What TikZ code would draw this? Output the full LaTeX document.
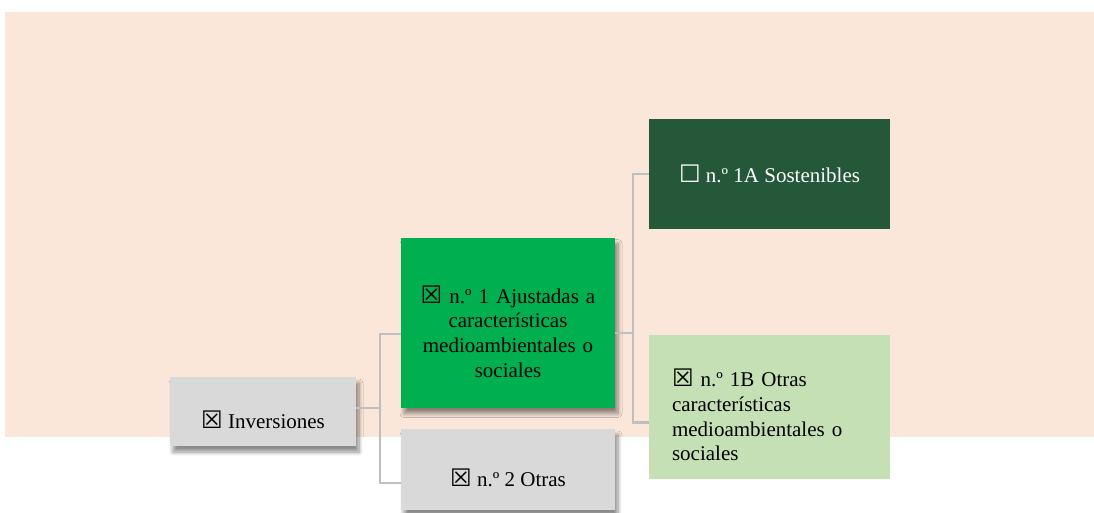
\documentclass[tikz,border=0pt]{standalone}
\usepackage{fontspec}
\setmainfont{Liberation Serif}
\newfontfamily\symf{DejaVu Sans}[Scale=1.15]
\usetikzlibrary{shadows.blur}
\definecolor{peach}{HTML}{FBE7D9}
\definecolor{boxgray}{HTML}{D9D9D9}
\definecolor{midgreen}{HTML}{00B050}
\definecolor{darkgreen}{HTML}{245838}
\definecolor{palegreen}{HTML}{C5E0B4}
\definecolor{linegray}{HTML}{BFBFBF}
\newcommand{\boxyes}{{\symf ☒}}
\newcommand{\boxno}{{\symf ☐}}
\tikzset{
  card/.style={inner sep=0pt, minimum width=#1},
  shade/.style={blur shadow={shadow xshift=3pt, shadow yshift=-6pt,
      shadow blur radius=4pt, shadow blur steps=8, shadow opacity=45}},
  lbl/.style={font=\fontsize{21}{24.7}\selectfont, inner sep=0pt},
  conn/.style={draw=linegray, line width=2.2pt}
}
\begin{document}
\begin{tikzpicture}[x=1pt, y=-1pt]
  \useasboundingbox (0,0) rectangle (1094,513);
  \fill[peach] (5,12) rectangle (1094,437);
  % level 0
  \node[card=186, minimum height=69, fill=boxgray, shade,
    label={[lbl, yshift=-8pt]center:{\boxyes\ Inversiones}}]
    (inv) at (263,411.5) {};
  % level 1
  \node[card=214, minimum height=170, fill=midgreen, shade,
    label={[lbl, yshift=-9pt, text width=205pt, align=center]center:{\boxyes\ n.º 1 Ajustadas a\\caracter\'isticas\\medioambientales o\\sociales}}]
    (n1) at (508,322.5) {};
  \node[card=214, minimum height=81, fill=boxgray, shade,
    label={[lbl, yshift=-8pt]center:{\boxyes\ n.º 2 Otras}}]
    (n2) at (508,469.5) {};
  % level 2
  \node[card=241, minimum height=110, fill=darkgreen,
    label={[lbl, text=white]center:{\boxno\ n.º 1A Sostenibles}}]
    (sost) at (769.5,174) {};
  \node[card=241, minimum height=144, fill=palegreen,
    label={[lbl, yshift=-8pt, xshift=-2.5pt, text width=190pt, align=left]center:{\boxyes\ n.º 1B Otras\\caracter\'isticas\\medioambientales o\\sociales}}]
    (otras) at (769.5,407) {};
  % connectors
  \coordinate (jl) at (380,408);
  \coordinate (jr) at (633,333);
  \draw[conn] ([yshift=3.5pt]inv.east) -- (jl);
  \draw[conn] (jl) |- ([yshift=-11.5pt]n1.west);
  \draw[conn] (jl) |- ([yshift=-13.5pt]n2.west);
  \draw[conn] ([yshift=-10.5pt]n1.east) -- (jr);
  \draw[conn] (jr) |- (sost.west);
  \draw[conn] (jr) |- ([yshift=-15.5pt]otras.west);
\end{tikzpicture}
\end{document}
